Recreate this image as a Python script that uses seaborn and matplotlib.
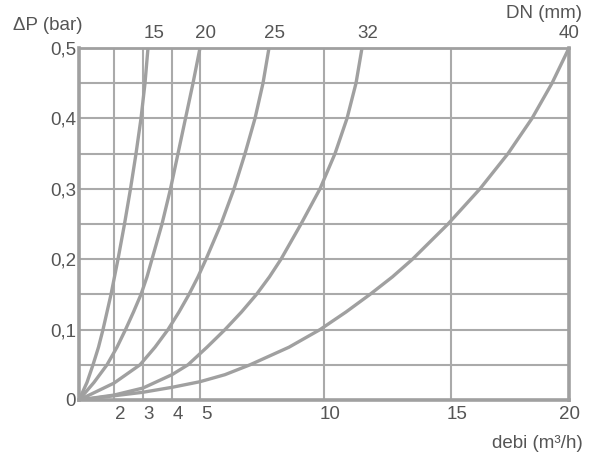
import numpy as np
import pandas as pd
import seaborn as sns
import matplotlib.pyplot as plt
from matplotlib.transforms import ScaledTranslation

# debi (m3/h) vs pressure drop (bar), one curve per nominal diameter
dn_labels = ["15", "20", "25", "32", "40"]
dp_15 = [0, 0.025, 0.05, 0.075, 0.10, 0.125, 0.15, 0.175, 0.20, 0.25, 0.30, 0.35, 0.40, 0.45, 0.50]
q_15 = [0, 0.457, 0.80, 1.114, 1.371, 1.60, 1.829, 2.017, 2.138, 2.362, 2.569, 2.759, 2.931, 3.069, 3.172]
dp_20 = [0, 0.025, 0.05, 0.075, 0.10, 0.125, 0.15, 0.175, 0.20, 0.25, 0.30, 0.35, 0.40, 0.45, 0.50]
q_20 = [0, 0.857, 1.60, 2.103, 2.397, 2.672, 2.931, 3.138, 3.31, 3.655, 3.948, 4.214, 4.482, 4.75, 5.0]
dp_25 = [0, 0.024, 0.05, 0.075, 0.10, 0.125, 0.15, 0.175, 0.20, 0.25, 0.30, 0.35, 0.40, 0.45, 0.50]
q_25 = [0, 2.0, 2.897, 3.414, 3.862, 4.25, 4.607, 4.929, 5.242, 5.847, 6.371, 6.815, 7.218, 7.54, 7.782]
dp_32 = [0, 0.007, 0.017, 0.036, 0.05, 0.075, 0.10, 0.125, 0.15, 0.175, 0.20, 0.25, 0.30, 0.35, 0.40, 0.45, 0.50]
q_32 = [0, 2.0, 3.0, 4.0, 4.571, 5.282, 6.008, 6.673, 7.278, 7.802, 8.266, 9.073, 9.839, 10.433, 10.906, 11.26, 11.496]
dp_40 = [0, 0.006, 0.011, 0.018, 0.026, 0.036, 0.05, 0.075, 0.10, 0.125, 0.15, 0.175, 0.20, 0.25, 0.30, 0.35, 0.40, 0.45, 0.50]
q_40 = [0, 2.0, 3.0, 4.0, 5.0, 6.008, 7.016, 8.589, 9.839, 10.866, 11.811, 12.697, 13.484, 14.882, 16.229, 17.415, 18.432, 19.28, 20.0]

x_ticks = [2, 3, 4, 5, 10, 15, 20]
y_ticks = [0, 0.1, 0.2, 0.3, 0.4, 0.5]
y_ticklabels = ["0", "0,1", "0,2", "0,3", "0,4", "0,5"]

curves = [(q_15, dp_15), (q_20, dp_20), (q_25, dp_25), (q_32, dp_32), (q_40, dp_40)]
df = pd.concat([pd.DataFrame({"q": q, "dp": dp, "dn": name})
                for name, (q, dp) in zip(dn_labels, curves)])

sns.set_theme(style="white")
plt.rcParams["font.family"] = ["Liberation Sans", "DejaVu Sans"]
txt = "#555555"
grey = "#a0a0a0"
fs = 13.5

fig = plt.figure(figsize=(5.96, 4.57), dpi=100)
ax = fig.add_axes([79 / 596, 57 / 457, 490 / 596, 352 / 457])

# the x axis of the original drawing is not linear, so map it piecewise
knot_d = [0, 2, 3, 4, 5, 10, 15, 20]
knot_p = [0, 35, 64, 93, 121, 245, 372, 490]
ax.set_xscale("function", functions=(lambda v: np.interp(v, knot_d, knot_p),
                                      lambda p: np.interp(p, knot_p, knot_d)))

sns.lineplot(data=df, x="q", y="dp", hue="dn", palette=[grey] * 5, estimator=None,
             sort=False, legend=False, linewidth=2.4, ax=ax, zorder=3)
for ln in ax.lines:
    ln.set_solid_joinstyle("round")

ax.set_xlim(0, 20)
ax.set_ylim(0, 0.5)
ax.set_xticks(x_ticks)
ax.set_xticklabels([str(t) for t in x_ticks])
ax.set_yticks(y_ticks)
ax.set_yticklabels(y_ticklabels)
ax.set_yticks(np.arange(0.05, 0.5, 0.1), minor=True)
ax.grid(True, which="both", color="#aaaaaa", linewidth=1.5)
ax.tick_params(axis="both", which="both", length=0, labelsize=fs, colors=txt)
ax.tick_params(axis="x", pad=4)
ax.tick_params(axis="y", pad=2)
ax.set_xlabel("")
ax.set_ylabel("")

for side in ["left", "bottom", "right"]:
    ax.spines[side].set_color(grey)
    ax.spines[side].set_linewidth(2.6)
ax.spines["top"].set_color(grey)
ax.spines["top"].set_linewidth(2.0)

# labels in the drawing sit a little right of their grid lines
labels = ax.get_xticklabels()
for lab in labels[:-1]:
    lab.set_transform(lab.get_transform() + ScaledTranslation(0.06, 0, fig.dpi_scale_trans))

for i, (name, (q, dp)) in enumerate(zip(dn_labels, curves)):
    dx = 0 if i == len(curves) - 1 else 6
    ax.annotate(name, xy=(q[-1], dp[-1]), xytext=(dx, 15), textcoords="offset pixels",
                ha="center", va="center", fontsize=fs, color=txt)

fig.text(13 / 596, 1 - 25 / 457, "ΔP (bar)", ha="left", va="center", fontsize=fs, color=txt)
fig.text(582 / 596, 1 - 13 / 457, "DN (mm)", ha="right", va="center", fontsize=fs, color=txt)
fig.text(583 / 596, 1 - 443 / 457, "debi (m³/h)", ha="right", va="center", fontsize=fs, color=txt)

fig.savefig("out.png", dpi=100)
